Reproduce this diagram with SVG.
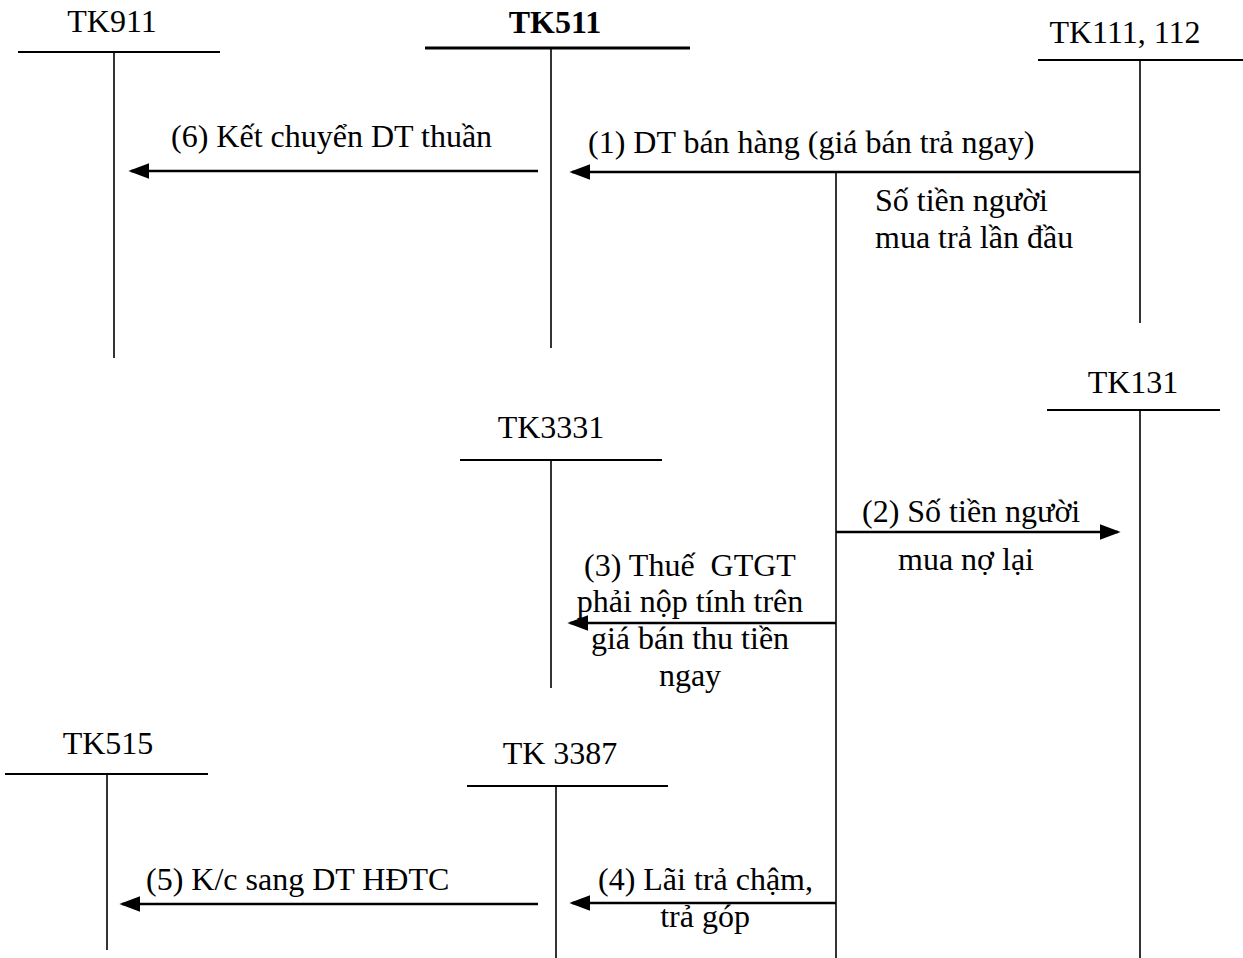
<svg xmlns="http://www.w3.org/2000/svg" width="1243" height="958" viewBox="0 0 1243 958">
  <style>
    text { font-family: "Liberation Serif", "Times New Roman", serif; font-size: 32px; fill: #000; }
    .bold { font-weight: bold; }
    .mid { text-anchor: middle; }
    .head { stroke: #000; stroke-width: 2; }
    .axis { stroke: #000; stroke-width: 1.6; }
    .flow { stroke: #000; stroke-width: 2.6; fill: none; marker-end: url(#arrow); }
  </style>
  <defs>
    <marker id="arrow" markerWidth="8" markerHeight="6" refX="7" refY="3" orient="auto" markerUnits="strokeWidth">
      <path d="M0,0 L8,3 L0,6 Z" fill="#000"/>
    </marker>
  </defs>

  <!-- T-accounts: name, header bar, vertical axis -->
  <g id="tk911">
    <text x="112" y="32" class="mid">TK911</text>
    <line x1="18" y1="52" x2="220" y2="52" class="head"/>
    <line x1="114" y1="52" x2="114" y2="358" class="axis"/>
  </g>
  <g id="tk511">
    <text x="555" y="33" class="mid bold">TK511</text>
    <line x1="425" y1="48" x2="690" y2="48" class="head" style="stroke-width:3"/>
    <line x1="551" y1="48" x2="551" y2="348" class="axis"/>
  </g>
  <g id="tk111">
    <text x="1125" y="43" class="mid">TK111, 112</text>
    <line x1="1038" y1="60" x2="1243" y2="60" class="head"/>
    <line x1="1140" y1="60" x2="1140" y2="323" class="axis"/>
  </g>
  <g id="tk131">
    <text x="1133" y="393" class="mid">TK131</text>
    <line x1="1047" y1="410" x2="1220" y2="410" class="head"/>
    <line x1="1140" y1="410" x2="1140" y2="958" class="axis"/>
  </g>
  <g id="tk3331">
    <text x="551" y="438" class="mid">TK3331</text>
    <line x1="460" y1="460" x2="662" y2="460" class="head"/>
    <line x1="551" y1="460" x2="551" y2="688" class="axis"/>
  </g>
  <g id="tk515">
    <text x="108" y="754" class="mid">TK515</text>
    <line x1="5" y1="774" x2="208" y2="774" class="head"/>
    <line x1="107" y1="774" x2="107" y2="950" class="axis"/>
  </g>
  <g id="tk3387">
    <text x="560" y="764" class="mid">TK 3387</text>
    <line x1="467" y1="786" x2="668" y2="786" class="head"/>
    <line x1="556" y1="786" x2="556" y2="958" class="axis"/>
  </g>

  <!-- Connectors -->
  <g id="connectors">
    <line x1="1140" y1="172" x2="572" y2="172" class="flow"/>
    <line x1="538" y1="171" x2="131" y2="171" class="flow"/>
    <line x1="836" y1="172" x2="836" y2="958" class="axis"/>
    <line x1="836" y1="532" x2="1118" y2="532" class="flow"/>
    <line x1="836" y1="623" x2="570" y2="623" class="flow"/>
    <line x1="836" y1="903" x2="572" y2="903" class="flow"/>
    <line x1="538" y1="904" x2="122" y2="904" class="flow"/>
  </g>

  <!-- Labels -->
  <g id="labels">
    <text x="588" y="153">(1) DT bán hàng (giá bán trả ngay)</text>
    <text x="171" y="147">(6) Kết chuyển DT thuần</text>
    <text x="875" y="211">Số tiền người</text>
    <text x="875" y="248">mua trả lần đầu</text>
    <text x="862" y="522">(2) Số tiền người</text>
    <text x="898" y="570">mua nợ lại</text>
    <text x="690" y="576" class="mid" xml:space="preserve">(3) Thuế  GTGT</text>
    <text x="690" y="612" class="mid">phải nộp tính trên</text>
    <text x="690" y="649" class="mid">giá bán thu tiền</text>
    <text x="690" y="686" class="mid">ngay</text>
    <text x="146" y="890">(5) K/c sang DT HĐTC</text>
    <text x="598" y="890">(4) Lãi trả chậm,</text>
    <text x="705" y="927" class="mid">trả góp</text>
  </g>
</svg>
